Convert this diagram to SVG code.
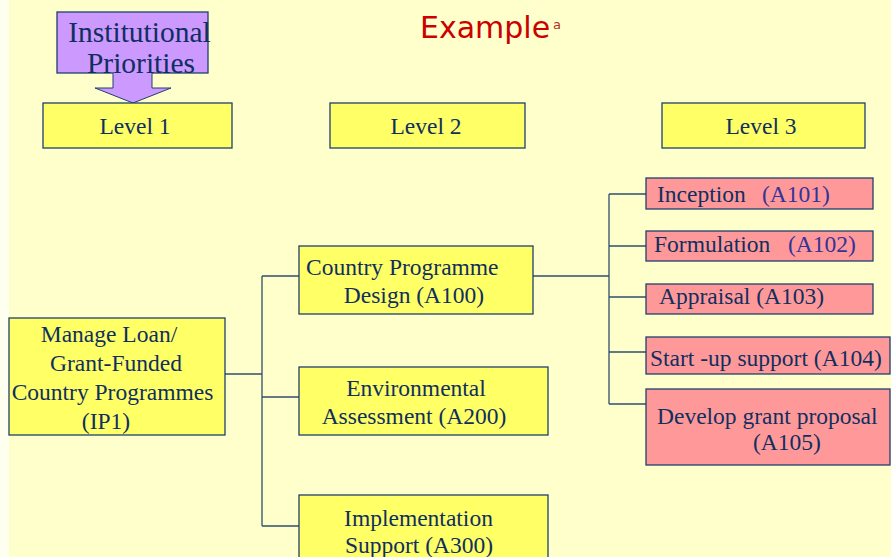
<svg xmlns="http://www.w3.org/2000/svg" width="891" height="557" viewBox="0 0 891 557">
<style>
.bg{fill:#FFFFCC}
.y{fill:#FFFF66;stroke:#1F3F6F;stroke-width:1.3}
.p{fill:#FF9999;stroke:#1F3F6F;stroke-width:1.3}
.t{font-family:"Liberation Serif","Times New Roman",serif;font-size:23.5px;fill:#0F2F5F}
.big{font-size:29.5px}
.c{text-anchor:middle}
.b{fill:#333399}
.ln{fill:none;stroke:#2F4F6F;stroke-width:1.3}
</style>
<rect x="0" y="0" width="891" height="557" fill="#FFFFF0"/>
<rect class="bg" x="9" y="0" width="882" height="557"/>
<text x="420" y="38" font-family="DejaVu Sans, sans-serif" font-size="30" fill="#CC0000">Example</text>
<text x="553" y="29" font-family="DejaVu Sans, sans-serif" font-size="13" fill="#B03020">a</text>
<g id="priorities">
<rect x="57" y="12" width="151" height="61" fill="#CC99FF" stroke="#1F3F6F" stroke-width="1.3"/>
<polygon points="113,73 152,73 152,88 171,88 133,103 95,88 113,88" fill="#CC99FF" stroke="#1F3F6F" stroke-width="1"/>
<rect x="113.7" y="71" width="37.6" height="4" fill="#CC99FF"/>
<text class="t big c" x="139.5" y="42">Institutional</text>
<text class="t big c" x="141" y="73">Priorities</text>
</g>
<g id="level1"><rect class="y" x="43" y="103" width="189" height="45"/><text class="t c" x="135" y="134">Level 1</text></g>
<g id="level2"><rect class="y" x="330" y="103" width="195" height="45"/><text class="t c" x="426" y="134">Level 2</text></g>
<g id="level3"><rect class="y" x="662" y="103" width="203" height="45"/><text class="t c" x="761" y="134">Level 3</text></g>
<g id="connectors">
<path class="ln" d="M225,374H262M262,276V526M262,276H299M262,397H299M262,526H299"/>
<path class="ln" d="M533,276H609M609,194V404M609,194H646M609,246H646M609,297H646M609,352H646M609,404H646"/>
</g>
<g id="ip1"><rect class="y" x="9" y="318" width="216" height="117"/>
<text class="t c" x="109" y="342">Manage Loan/</text>
<text class="t c" x="116" y="371">Grant-Funded</text>
<text class="t c" x="112.5" y="400">Country Programmes</text>
<text class="t c" x="106" y="429">(IP1)</text></g>
<g id="a100"><rect class="y" x="299" y="246" width="234" height="68"/>
<text class="t" x="306" y="275">Country Programme</text>
<text class="t c" x="414" y="303">Design (A100)</text></g>
<g id="a200"><rect class="y" x="299" y="367" width="249" height="68"/>
<text class="t c" x="416" y="396">Environmental</text>
<text class="t c" x="414" y="424">Assessment (A200)</text></g>
<g id="a300"><rect class="y" x="299" y="495" width="249" height="70"/>
<text class="t c" x="418.5" y="526">Implementation</text>
<text class="t c" x="419" y="553">Support (A300)</text></g>
<g id="a101"><rect class="p" x="646" y="178" width="227" height="31"/>
<text class="t" x="657" y="202">Inception <tspan class="b" x="762">(A101)</tspan></text></g>
<g id="a102"><rect class="p" x="646" y="231" width="227" height="30"/>
<text class="t" x="654" y="252">Formulation <tspan class="b" x="788">(A102)</tspan></text></g>
<g id="a103"><rect class="p" x="646" y="284" width="227" height="30"/>
<text class="t" x="659" y="304">Appraisal (A103)</text></g>
<g id="a104"><rect class="p" x="646" y="337" width="244" height="37"/>
<text class="t" x="650" y="366">Start -up support (A104)</text></g>
<g id="a105"><rect class="p" x="646" y="389" width="244" height="76"/>
<text class="t" x="657" y="424">Develop grant proposal</text>
<text class="t" x="753" y="450">(A105)</text></g>
</svg>
